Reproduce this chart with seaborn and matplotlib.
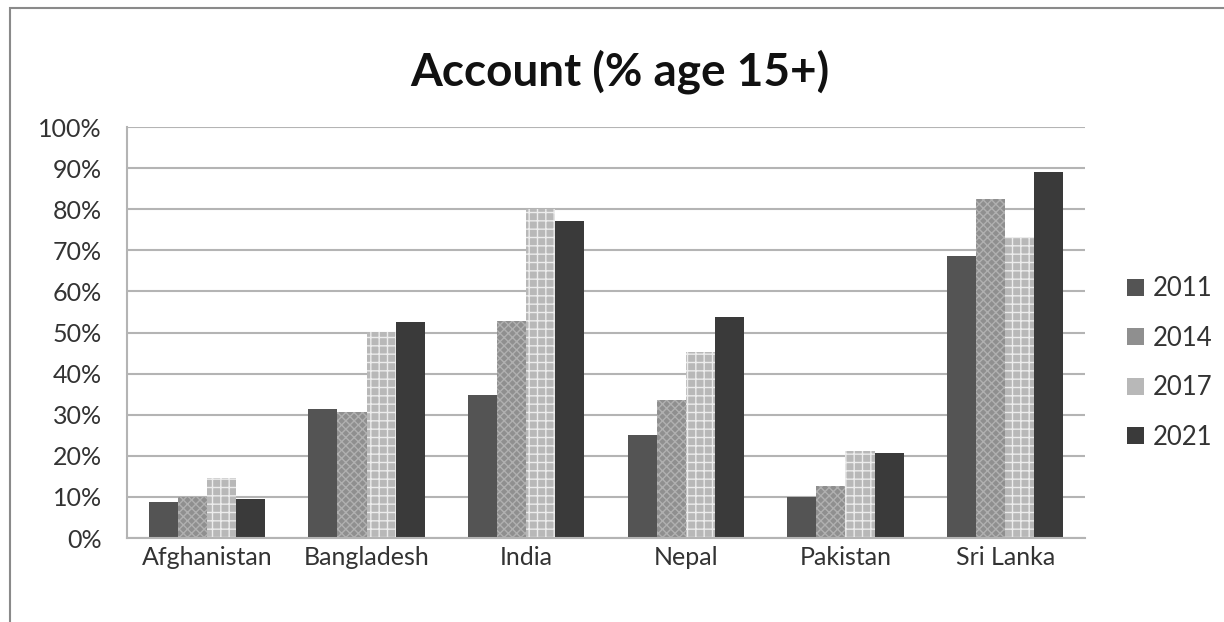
import matplotlib
matplotlib.use("Agg")
import matplotlib.pyplot as plt
import seaborn as sns
import pandas as pd
from matplotlib.patches import Rectangle
from matplotlib.ticker import FuncFormatter

countries = ["Afghanistan", "Bangladesh", "India", "Nepal", "Pakistan", "Sri Lanka"]
years = ["2011", "2014", "2017", "2021"]
v2011 = [8.8, 31.5, 34.9, 25.0, 9.9, 68.5]
v2014 = [10.0, 30.6, 52.9, 33.6, 12.7, 82.5]
v2017 = [14.5, 50.1, 80.1, 45.3, 21.1, 73.3]
v2021 = [9.4, 52.6, 77.2, 53.8, 20.8, 89.0]
yticks = [0, 10, 20, 30, 40, 50, 60, 70, 80, 90, 100]

series = {"2011": v2011, "2014": v2014, "2017": v2017, "2021": v2021}
rows = []
for y in years:
    for c, v in zip(countries, series[y]):
        rows.append({"Country": c, "Year": y, "Value": v})
df = pd.DataFrame(rows)

sns.set_theme(style="white")
plt.rcParams["font.family"] = ["Lato", "DejaVu Sans"]
plt.rcParams["hatch.linewidth"] = 1.0

fig = plt.figure(figsize=(12.24, 6.22), dpi=100)
ax = fig.add_axes([127/1224, 1-538/622, (1085-127)/1224, (538-127)/622])

palette = {"2011": "#545454", "2014": "#8f8f8f", "2017": "#b8b8b8", "2021": "#3a3a3a"}
sns.barplot(data=df, x="Country", y="Value", hue="Year", hue_order=years,
            order=countries, palette=palette, width=0.73, ax=ax,
            saturation=1, edgecolor="none", linewidth=0)

hatches = {"2011": None, "2014": "xxxx", "2017": "++", "2021": None}
hatchcol = {"2011": "#545454", "2014": "#b0b0b0", "2017": "#ececec", "2021": "#3a3a3a"}
for cont, y in zip(ax.containers, years):
    for bar in cont:
        if hatches[y]:
            bar.set_hatch(hatches[y])
            bar.set_edgecolor(hatchcol[y])
            bar.set_linewidth(0)

ax.set_ylim(0, 100)
ax.set_yticks(yticks)
ax.yaxis.set_major_formatter(FuncFormatter(lambda v, p: f"{int(v)}%"))
ax.grid(axis="y", color="#b4b4b4", linewidth=1.5)
ax.set_axisbelow(True)
for s in ["top", "right"]:
    ax.spines[s].set_visible(False)
ax.spines["left"].set_color("#b4b4b4")
ax.spines["bottom"].set_color("#b4b4b4")
ax.spines["left"].set_linewidth(1.5)
ax.spines["bottom"].set_linewidth(1.5)
ax.tick_params(axis="y", labelsize=18, colors="#333333", length=0, pad=18)
ax.tick_params(axis="x", labelsize=18, colors="#333333", length=0, pad=6)
ax.set_xlabel("")
ax.set_ylabel("")

fig.text(0.5 + 8/1224, 1-72/622, "Account (% age 15+)", ha="center", va="center",
         fontsize=33, fontweight="bold", color="#111111")

leg = ax.legend(loc="center left", bbox_to_anchor=(1.02, 0.426), frameon=False,
                fontsize=18.5, handlelength=0.65, handleheight=0.65, labelspacing=0.95,
                handletextpad=0.35, labelcolor="#333333")

fig.patches.append(Rectangle((10/1224, -0.05), 1.2, 1-8/622+0.05, transform=fig.transFigure,
                             fill=False, edgecolor="#8a8a8a", linewidth=1.5))

fig.savefig("out.png", dpi=100)
